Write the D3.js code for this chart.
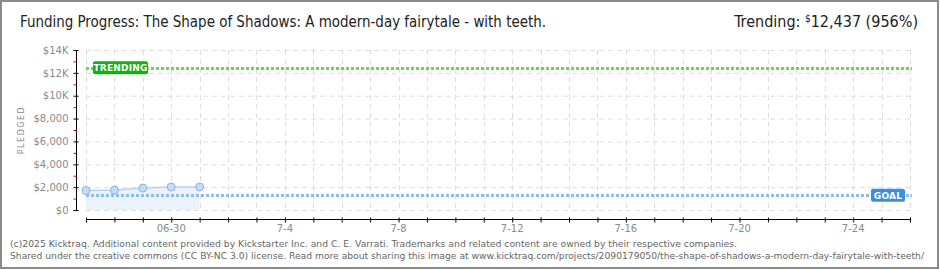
<!DOCTYPE html>
<html>
<head>
<meta charset="utf-8">
<script src="https://cdn.jsdelivr.net/npm/d3@7"></script>
<style>
  body { margin: 0; background: #fff; }
  svg { display: block; }
</style>
</head>
<body>
<div id="chart"></div>
<script>
// funding data
const days = ["2025-06-27", "2025-06-28", "2025-06-29", "2025-06-30", "2025-07-01"];
const pledged = [1705, 1740, 1920, 2010, 2015];
const goal = 1300;
const trending = 12437;

const yTicks = [0, 2000, 4000, 6000, 8000, 10000, 12000, 14000];
const yTickLabels = ["$0", "$2,000", "$4,000", "$6,000", "$8,000", "$10K", "$12K", "$14K"];
const xLabelDays = ["2025-06-30", "2025-07-04", "2025-07-08", "2025-07-12", "2025-07-16", "2025-07-20", "2025-07-24"];
const xTickLabels = ["06-30", "7-4", "7-8", "7-12", "7-16", "7-20", "7-24"];

const width = 940;
const height = 270;
const parse = d3.timeParse("%Y-%m-%d");

const x = d3.scaleTime()
    .domain([parse("2025-06-27"), parse("2025-07-26")])
    .range([86, 910]);

const y = d3.scaleLinear()
    .domain([0, 14000])
    .range([210, 50]);

const svg = d3.select("#chart").append("svg")
    .attr("width", width)
    .attr("height", height)
    .attr("viewBox", [0, 0, width, height]);

// frame
svg.append("rect")
    .attr("x", 1).attr("y", 1)
    .attr("width", width - 3).attr("height", height - 3)
    .attr("fill", "#fff")
    .attr("stroke", "#8a8a8a")
    .attr("stroke-width", 2);

// title + trending
svg.append("text")
    .attr("x", 20).attr("y", 27)
    .attr("font-family", "DejaVu Sans Condensed, DejaVu Sans")
    .attr("font-size", 16)
    .attr("fill", "#222")
    .attr("textLength", 526)
    .attr("lengthAdjust", "spacingAndGlyphs")
    .text("Funding Progress: The Shape of Shadows: A modern-day fairytale - with teeth.");

const tr = svg.append("text")
    .attr("x", 918).attr("y", 27)
    .attr("text-anchor", "end")
    .attr("font-family", "DejaVu Sans Condensed, DejaVu Sans")
    .attr("font-size", 16)
    .attr("fill", "#222");
tr.append("tspan").text("Trending:  ");
tr.append("tspan").attr("font-size", 10).attr("dy", -5).text("$");
tr.append("tspan").attr("dy", 5).text("12,437 (956%)");

const allDays = d3.timeDay.range(x.domain()[0], d3.timeDay.offset(x.domain()[1], 1));

// grid
svg.append("g")
    .selectAll("line")
    .data(yTicks)
    .join("line")
      .attr("x1", 86).attr("x2", 910)
      .attr("y1", d => y(d) + 0.5).attr("y2", d => y(d) + 0.5)
      .attr("stroke", "#dedede")
      .attr("stroke-dasharray", "5,4");

svg.append("g")
    .selectAll("line")
    .data(allDays)
    .join("line")
      .attr("x1", d => Math.round(x(d)) + 0.5).attr("x2", d => Math.round(x(d)) + 0.5)
      .attr("y1", 50).attr("y2", 210)
      .attr("stroke", "#dedede")
      .attr("stroke-dasharray", "5,4");

// pledged area + line + points
const pts = days.map((d, i) => ({date: parse(d), value: pledged[i]}));

svg.append("path")
    .datum(pts)
    .attr("fill", "#eaf3fd")
    .attr("d", d3.area().x(d => x(d.date)).y0(y(0)).y1(d => y(d.value)));

svg.append("path")
    .datum(pts)
    .attr("fill", "none")
    .attr("stroke", "#b4d2f3")
    .attr("stroke-width", 1.5)
    .attr("d", d3.line().x(d => x(d.date)).y(d => y(d.value)));

// goal + trending lines
svg.append("line")
    .attr("x1", 86).attr("x2", 912)
    .attr("y1", Math.round(y(goal)) + 0.5).attr("y2", Math.round(y(goal)) + 0.5)
    .attr("stroke", "#8fbcec")
    .attr("stroke-width", 3)
    .attr("stroke-dasharray", "3,2");

svg.append("line")
    .attr("x1", 86).attr("x2", 912)
    .attr("y1", Math.round(y(trending)) + 0.5).attr("y2", Math.round(y(trending)) + 0.5)
    .attr("stroke", "#72d05a")
    .attr("stroke-width", 3)
    .attr("stroke-dasharray", "3,2");

svg.append("g")
    .selectAll("circle")
    .data(pts)
    .join("circle")
      .attr("cx", d => x(d.date))
      .attr("cy", d => y(d.value))
      .attr("r", 4)
      .attr("fill", "#c4dcf6")
      .attr("stroke", "#8fb2dc")
      .attr("stroke-width", 1);

// badges
function badge(label, cx, cy, w, fill) {
  svg.append("rect")
      .attr("x", cx).attr("y", cy - 6.5)
      .attr("width", w).attr("height", 13)
      .attr("rx", 2)
      .attr("fill", fill);
  svg.append("text")
      .attr("x", cx + w / 2).attr("y", cy + 3.5)
      .attr("text-anchor", "middle")
      .attr("font-family", "DejaVu Sans")
      .attr("font-weight", "bold")
      .attr("font-size", 9)
      .attr("letter-spacing", 0.2)
      .attr("fill", "#fff")
      .text(label);
}
badge("TRENDING", 93, y(trending), 55, "#12b012");
badge("GOAL", 871, y(goal), 34, "#3d8ee0");

// y axis
svg.append("g")
    .attr("transform", "translate(76.5,0)")
    .call(d3.axisLeft(y).tickValues(yTicks).tickSize(3).tickPadding(5)
      .tickFormat((d, i) => yTickLabels[i]))
    .call(g => g.select(".domain").attr("stroke", "#000").attr("d", `M0,${y(14000)}V${y(0)}`))
    .call(g => g.selectAll(".tick line").attr("x1", 2).attr("stroke", "#000"))
    .call(g => g.selectAll("text")
      .attr("font-family", "DejaVu Sans")
      .attr("font-size", 10)
      .attr("fill", "#8a8a8a"));

svg.append("g")
    .attr("transform", "translate(76.5,0)")
    .call(d3.axisLeft(y).tickValues(d3.range(1000, 14000, 2000)).tickSize(3).tickFormat(""))
    .call(g => g.select(".domain").remove())
    .call(g => g.selectAll(".tick line").attr("stroke", "#e00000"));

svg.append("text")
    .attr("transform", "translate(24,130) rotate(-90)")
    .attr("text-anchor", "middle")
    .attr("font-family", "DejaVu Sans")
    .attr("font-size", 8)
    .attr("letter-spacing", 1.5)
    .attr("fill", "#8a8a8a")
    .text("PLEDGED");

// x axis
svg.append("g")
    .attr("transform", "translate(0,219.5)")
    .call(d3.axisBottom(x).tickValues(allDays).tickSize(3).tickFormat(""))
    .call(g => g.select(".domain").attr("stroke", "#000").attr("d", `M${x.range()[0]},0H${x.range()[1]}`))
    .call(g => g.selectAll(".tick line").attr("y1", -2).attr("stroke", "#000"));

svg.append("g")
    .selectAll("text")
    .data(xLabelDays)
    .join("text")
      .attr("x", d => x(parse(d)))
      .attr("y", 232)
      .attr("text-anchor", "middle")
      .attr("font-family", "DejaVu Sans")
      .attr("font-size", 10)
      .attr("fill", "#8a8a8a")
      .text((d, i) => xTickLabels[i]);

// footer
const foot = svg.append("g")
    .attr("font-family", "DejaVu Sans")
    .attr("font-size", 9)
    .attr("fill", "#666");
foot.append("text").attr("x", 10).attr("y", 247)
    .attr("textLength", 727).attr("lengthAdjust", "spacingAndGlyphs")
    .text("(c)2025 Kicktraq. Additional content provided by Kickstarter Inc. and C. E. Varrati. Trademarks and related content are owned by their respective companies.");
foot.append("text").attr("x", 10).attr("y", 259)
    .attr("textLength", 914).attr("lengthAdjust", "spacingAndGlyphs")
    .text("Shared under the creative commons (CC BY-NC 3.0) license. Read more about sharing this image at www.kicktraq.com/projects/2090179050/the-shape-of-shadows-a-modern-day-fairytale-with-teeth/");
</script>
</body>
</html>
